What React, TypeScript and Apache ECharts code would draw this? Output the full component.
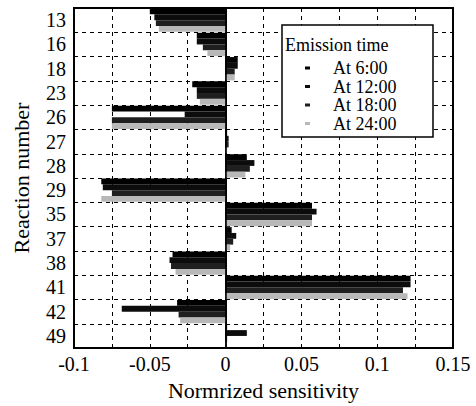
import React, { useEffect, useRef } from "react";
import * as echarts from "echarts";

const categories = ["13", "16", "18", "23", "26", "27", "28", "29", "35", "37", "38", "41", "42", "49"];
const seriesNames = ["At 6:00", "At 12:00", "At 18:00", "At 24:00"];
const at6 = [-0.05, -0.019, 0.008, -0.022, -0.075, 0.001, 0.014, -0.082, 0.057, 0.004, -0.035, 0.122, -0.032, 0.001];
const at12 = [-0.047, -0.019, 0.008, -0.019, -0.027, 0.002, 0.019, -0.081, 0.06, 0.007, -0.037, 0.122, -0.0685, 0.014];
const at18 = [-0.046, -0.015, 0.006, -0.019, -0.075, 0.002, 0.016, -0.075, 0.057, 0.005, -0.036, 0.117, -0.031, 0.001];
const at24 = [-0.044, -0.012, 0.006, -0.017, -0.075, 0.001, 0.013, -0.082, 0.057, 0.003, -0.033, 0.12, -0.03, 0.0005];
const seriesData = [at6, at12, at18, at24];
const seriesColors = ["#000000", "#0c0c0c", "#1f1f1f", "#b8b8b8"];
const xTickValues = [-0.1, -0.05, 0, 0.05, 0.1, 0.15];
const xTickLabels = ["-0.1", "-0.05", "0", "0.05", "0.1", "0.15"];

const FONT = "'Liberation Serif', 'DejaVu Serif', serif";

export default function App() {
  const ref = useRef<HTMLDivElement>(null);
  useEffect(() => {
    if (!ref.current) return;
    const chart = echarts.init(ref.current, null, { renderer: "svg" });
    chart.setOption({
      animation: false,
      backgroundColor: "#ffffff",
      grid: {
        left: 74,
        right: 23,
        top: 8,
        bottom: 52,
        show: true,
        borderColor: "#000",
        borderWidth: 2,
        backgroundColor: "transparent",
      },
      xAxis: {
        type: "value",
        min: -0.1,
        max: 0.15,
        interval: 0.025,
        name: "Normrized sensitivity",
        nameLocation: "middle",
        nameGap: 29,
        nameTextStyle: { fontFamily: FONT, fontSize: 22, color: "#000" },
        axisLine: { show: true, lineStyle: { color: "#000", width: 2 } },
        axisTick: { show: false },
        axisLabel: {
          fontFamily: FONT,
          fontSize: 20,
          color: "#000",
          margin: 6,
          formatter: (v: number) => {
            const i = xTickValues.findIndex((t) => Math.abs(t - v) < 1e-9);
            return i >= 0 ? xTickLabels[i] : "";
          },
        },
        splitLine: { show: true, lineStyle: { color: "#000", type: [4, 4], width: 1 } },
      },
      yAxis: {
        type: "category",
        data: categories,
        inverse: true,
        name: "Reaction number",
        nameLocation: "middle",
        nameGap: 42,
        nameTextStyle: { fontFamily: FONT, fontSize: 22, color: "#000" },
        axisLine: { show: true, lineStyle: { color: "#000", width: 2 } },
        axisTick: { show: false },
        axisLabel: { interval: 0, fontFamily: FONT, fontSize: 20, color: "#000", margin: 8 },
        splitLine: { show: true, interval: 0, lineStyle: { color: "#000", type: [4, 4], width: 1 } },
      },
      legend: {
        data: seriesNames,
        orient: "vertical",
        left: 300,
        top: 54,
        itemWidth: 5,
        itemHeight: 3,
        itemGap: 0.5,
        icon: "rect",
        z: 10,
        textStyle: { fontFamily: FONT, fontSize: 18, color: "#000", lineHeight: 18, padding: [0, 0, 0, 18] },
      },
      graphic: [
        {
          type: "rect",
          z: 8,
          shape: { x: 282, y: 25, width: 151, height: 112 },
          style: { fill: "#fff", stroke: "#000", lineWidth: 1.5 },
        },
        {
          type: "text",
          z: 9,
          x: 285,
          y: 36,
          style: { text: "Emission time", font: `18px ${FONT}`, fill: "#000" },
        },
      ],
      series: seriesNames.map((name, i) => ({
        name,
        type: "bar",
        data: seriesData[i],
        barGap: "0%",
        barCategoryGap: "4%",
        itemStyle: { color: seriesColors[i] },
        markLine:
          i === 0
            ? {
                silent: true,
                symbol: "none",
                label: { show: false },
                lineStyle: { color: "#000", type: "solid", width: 1.5 },
                data: [{ xAxis: 0 }],
              }
            : undefined,
      })),
    });
    return () => chart.dispose();
  }, []);
  return (
    <div
      ref={ref}
      style={{ position: "fixed", left: 0, top: 0, width: 476, height: 406 }}
    />
  );
}
